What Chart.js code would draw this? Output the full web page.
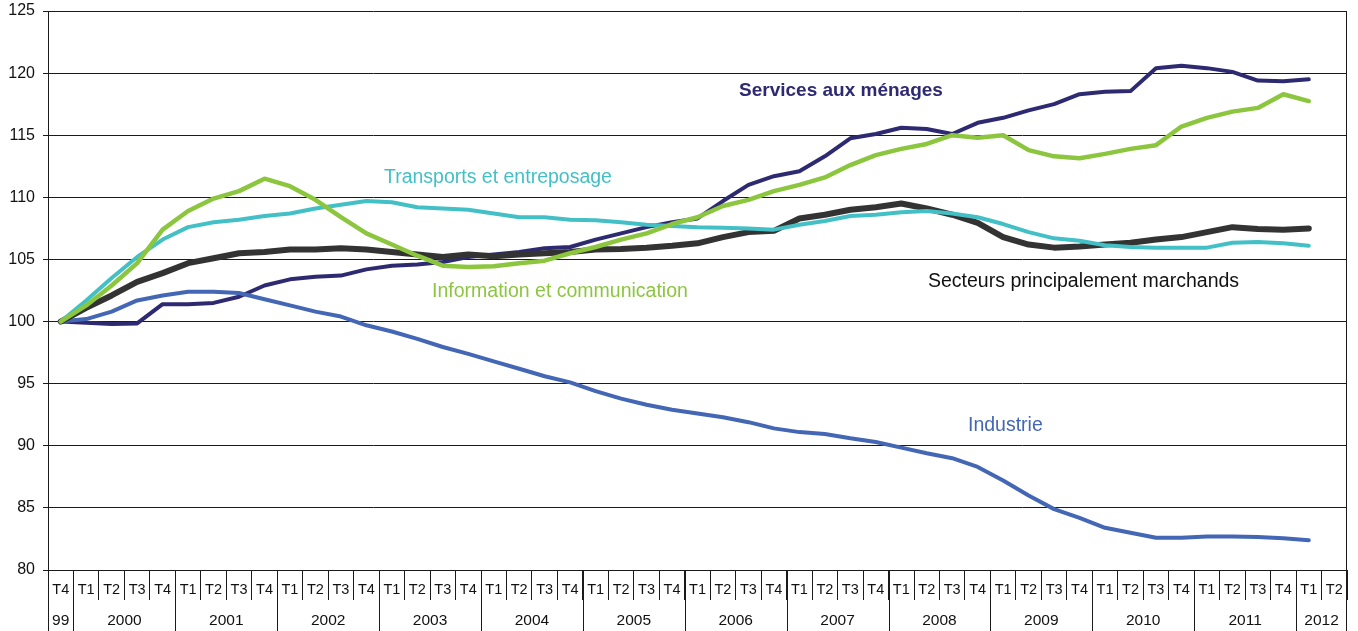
<!DOCTYPE html>
<html>
<head>
<meta charset="utf-8">
<script src="https://cdn.jsdelivr.net/npm/chart.js@4.4.1/dist/chart.umd.min.js"></script>
<style>
  html, body { margin: 0; padding: 0; background: #ffffff; }
  #wrap { width: 1358px; height: 631px; position: relative; }
</style>
</head>
<body>
<div id="wrap"><canvas id="c" width="1358" height="631"></canvas></div>
<script>
// Quarter labels (categories) and the year each belongs to
const quarterLabels = ['T4',
  'T1','T2','T3','T4', 'T1','T2','T3','T4', 'T1','T2','T3','T4', 'T1','T2','T3','T4',
  'T1','T2','T3','T4', 'T1','T2','T3','T4', 'T1','T2','T3','T4', 'T1','T2','T3','T4',
  'T1','T2','T3','T4', 'T1','T2','T3','T4', 'T1','T2','T3','T4', 'T1','T2','T3','T4',
  'T1','T2'];
const yearLabels = ['99',
  '2000','2000','2000','2000', '2001','2001','2001','2001', '2002','2002','2002','2002',
  '2003','2003','2003','2003', '2004','2004','2004','2004', '2005','2005','2005','2005',
  '2006','2006','2006','2006', '2007','2007','2007','2007', '2008','2008','2008','2008',
  '2009','2009','2009','2009', '2010','2010','2010','2010', '2011','2011','2011','2011',
  '2012','2012'];

// Series (base 100 = T4 1999), T4 1999 .. T1 2012
const servicesMenages = [100, 99.9, 99.8, 99.85, 101.4, 101.4, 101.5, 102.0, 102.9, 103.4,
  103.6, 103.7, 104.2, 104.5, 104.6, 104.8, 105.2, 105.4, 105.6, 105.9,
  106.0, 106.6, 107.1, 107.6, 108.0, 108.3, 109.7, 111.0, 111.7, 112.1,
  113.3, 114.75, 115.1, 115.6, 115.5, 115.1, 116.0, 116.4, 117.0, 117.5,
  118.3, 118.5, 118.55, 120.4, 120.6, 120.4, 120.1, 119.4, 119.35, 119.5];
const informationCommunication = [100, 101.3, 102.9, 104.7, 107.4, 108.9, 109.9, 110.5, 111.5, 110.9,
  109.8, 108.4, 107.1, 106.2, 105.3, 104.5, 104.4, 104.45, 104.7, 104.9,
  105.5, 106.0, 106.6, 107.1, 107.85, 108.4, 109.3, 109.8, 110.5, 111.0,
  111.6, 112.6, 113.4, 113.9, 114.3, 115.0, 114.8, 115.0, 113.8, 113.3,
  113.15, 113.5, 113.9, 114.2, 115.7, 116.4, 116.9, 117.2, 118.3, 117.75];
const transportsEntreposage = [100, 101.7, 103.5, 105.2, 106.6, 107.6, 108.0, 108.2, 108.5, 108.7,
  109.1, 109.4, 109.7, 109.6, 109.2, 109.1, 109.0, 108.7, 108.4, 108.4,
  108.2, 108.15, 108.0, 107.8, 107.7, 107.6, 107.55, 107.5, 107.4, 107.8,
  108.1, 108.5, 108.6, 108.8, 108.9, 108.7, 108.4, 107.85, 107.2, 106.7,
  106.5, 106.15, 106.0, 105.95, 105.95, 105.95, 106.35, 106.4, 106.3, 106.1];
const secteursMarchands = [100, 101.1, 102.1, 103.2, 103.9, 104.7, 105.1, 105.5, 105.6, 105.8,
  105.8, 105.9, 105.8, 105.6, 105.4, 105.2, 105.4, 105.25, 105.4, 105.5,
  105.6, 105.8, 105.85, 105.95, 106.1, 106.3, 106.8, 107.2, 107.3, 108.3,
  108.6, 109.0, 109.2, 109.5, 109.1, 108.6, 107.95, 106.8, 106.2, 105.95,
  106.05, 106.2, 106.35, 106.6, 106.8, 107.2, 107.6, 107.45, 107.4, 107.5];
const industrie = [100, 100.2, 100.8, 101.7, 102.1, 102.4, 102.4, 102.3, 101.8, 101.3,
  100.8, 100.4, 99.7, 99.2, 98.6, 97.95, 97.4, 96.8, 96.2, 95.6,
  95.1, 94.4, 93.8, 93.3, 92.9, 92.6, 92.3, 91.9, 91.4, 91.1,
  90.95, 90.6, 90.3, 89.85, 89.4, 89.0, 88.3, 87.2, 86.0, 84.9,
  84.2, 83.4, 83.0, 82.6, 82.6, 82.7, 82.7, 82.65, 82.55, 82.4];

const yTicks = [80, 85, 90, 95, 100, 105, 110, 115, 120, 125];

const FONT = '"Liberation Sans", Arial, Helvetica, sans-serif';

const seriesNames = ['Services aux ménages', 'Transports et entreposage', 'Information et communication',
  'Secteurs principalement marchands', 'Industrie'];
const seriesColors = ['#2e2a72', '#43c0c6', '#8cc63f', '#333333', '#4467b5'];

const labelPlugin = {
  id: 'labels',
  afterDraw(chart) {
    const ctx = chart.ctx;
    const x = chart.scales.x, y = chart.scales.y;
    const area = chart.chartArea;
    const H = chart.height;
    ctx.save();
    ctx.strokeStyle = '#1a1a1a';
    ctx.lineWidth = 1;
    ctx.beginPath();
    ctx.moveTo(Math.round(area.left) + 0.5, area.bottom);
    ctx.lineTo(Math.round(area.left) + 0.5, H);
    ctx.moveTo(Math.round(area.right) - 0.5, area.top);
    ctx.lineTo(Math.round(area.right) - 0.5, H);
    for (let i = 1; i < yearLabels.length; i++) {
      if (yearLabels[i] !== yearLabels[i - 1]) {
        const px = Math.round(x.getPixelForValue(i - 0.5)) + 0.5;
        ctx.moveTo(px, area.bottom);
        ctx.lineTo(px, H);
      }
    }
    ctx.stroke();
    ctx.fillStyle = '#111';
    ctx.font = '15.5px ' + FONT;
    ctx.textAlign = 'center';
    ctx.textBaseline = 'middle';
    let start = 0;
    for (let i = 1; i <= yearLabels.length; i++) {
      if (i === yearLabels.length || yearLabels[i] !== yearLabels[start]) {
        const a = x.getPixelForValue(start - 0.5), b = x.getPixelForValue(i - 0.5);
        ctx.fillText(yearLabels[start], (a + b) / 2, area.bottom + 50.5);
        start = i;
      }
    }
    const names = [
      [seriesNames[0], 26.63, 118.16, seriesColors[0], 'bold 19px '],
      [seriesNames[1], 12.69, 111.15, seriesColors[1], '19.5px '],
      [seriesNames[2], 14.58, 101.97, seriesColors[2], '19.5px '],
      [seriesNames[3], 34.05, 102.82, '#111111', '19.5px '],
      [seriesNames[4], 35.62, 91.22, seriesColors[4], '19.5px ']
    ];
    ctx.textAlign = 'left';
    ctx.textBaseline = 'alphabetic';
    names.forEach(n => {
      ctx.font = n[4] + FONT;
      ctx.fillStyle = n[3];
      ctx.fillText(n[0], x.getPixelForValue(n[1]), y.getPixelForValue(n[2]));
    });
    ctx.restore();
  }
};

function ds(label, data, color, width, order) {
  return {
    label, data, borderColor: color, backgroundColor: color, borderWidth: width,
    pointRadius: 0, tension: 0, fill: false, order,
    borderCapStyle: 'round', borderJoinStyle: 'round'
  };
}

new Chart(document.getElementById('c'), {
  type: 'line',
  data: {
    labels: quarterLabels,
    datasets: [
      ds(seriesNames[2], informationCommunication, seriesColors[2], 4.5, 0),
      ds(seriesNames[1], transportsEntreposage, seriesColors[1], 4, 1),
      ds(seriesNames[3], secteursMarchands, seriesColors[3], 6, 2),
      ds(seriesNames[4], industrie, seriesColors[4], 4, 3),
      ds(seriesNames[0], servicesMenages, seriesColors[0], 4, 4)
    ]
  },
  options: {
    responsive: false,
    devicePixelRatio: 1,
    animation: false,
    layout: { padding: { top: 11, right: 11, left: 0, bottom: 0 } },
    plugins: { legend: { display: false }, tooltip: { enabled: false } },
    scales: {
      x: {
        type: 'category',
        offset: true,
        grid: { offset: true, drawOnChartArea: false, tickLength: 30, color: '#1a1a1a', lineWidth: 1 },
        border: { display: true, color: '#1a1a1a', width: 1 },
        ticks: {
          autoSkip: false, maxRotation: 0, minRotation: 0,
          padding: -19, color: '#111',
          font: { family: FONT, size: 14.5 }
        },
        afterFit(scale) { scale.height = 61; scale.paddingLeft = 0; scale.paddingRight = 0; }
      },
      y: {
        min: 80, max: 125,
        afterBuildTicks(scale) { scale.ticks = yTicks.map(v => ({ value: v })); },
        grid: { color: '#1a1a1a', lineWidth: 1, tickLength: 5 },
        border: { display: true, color: '#1a1a1a', width: 1 },
        ticks: { padding: 8, color: '#111', font: { family: FONT, size: 16 } },
        afterFit(scale) { scale.width = 48; scale.paddingTop = 0; scale.paddingBottom = 0; }
      }
    }
  },
  plugins: [labelPlugin]
});
</script>
</body>
</html>
